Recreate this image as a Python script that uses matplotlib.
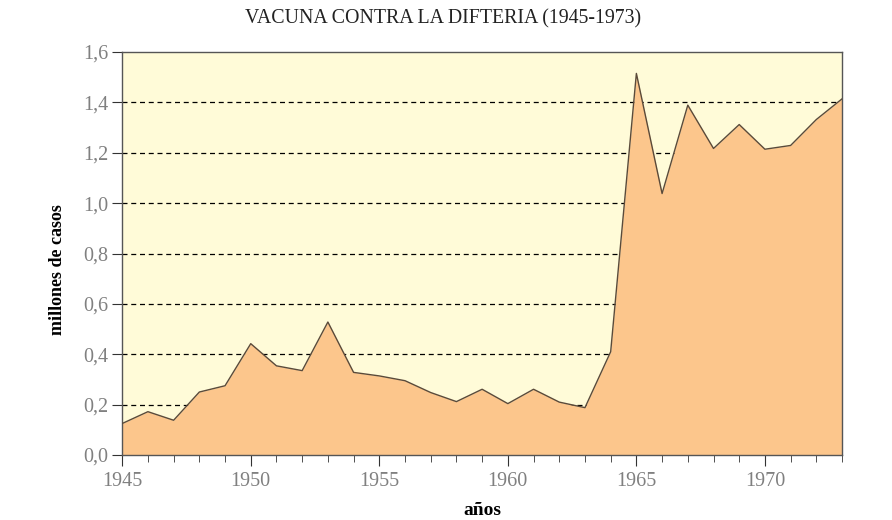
import matplotlib.pyplot as plt
from matplotlib.ticker import FixedLocator, FuncFormatter

# ============================= DATA =============================
years = list(range(1945, 1974))
cases = [0.125, 0.172, 0.138, 0.250, 0.275, 0.442, 0.354, 0.335, 0.528, 0.328,
         0.314, 0.295, 0.248, 0.212, 0.261, 0.204, 0.261, 0.210, 0.188, 0.410,
         1.515, 1.038, 1.389, 1.217, 1.312, 1.214, 1.229, 1.332, 1.414]
y_ticks = [0.0, 0.2, 0.4, 0.6, 0.8, 1.0, 1.2, 1.4, 1.6]
x_ticks = [1945, 1950, 1955, 1960, 1965, 1970]

title = "VACUNA CONTRA LA DIFTERIA (1945-1973)"
xlabel = "años"
ylabel = "millones de casos"

# ============================= PLOT =============================
plt.rcParams["font.family"] = ["Liberation Serif", "DejaVu Serif"]

fig = plt.figure(figsize=(8.92, 5.2), dpi=100)
ax = fig.add_axes([0.137, 0.125, 0.807, 0.775])

ax.set_facecolor("#fffbd8")
ax.fill_between(years, cases, 0, color="#fcc68c", linewidth=0, zorder=2)
ax.plot(years, cases, color="#5a4a3a", linewidth=1.0, zorder=3)

# dashed reference lines
for v in y_ticks[1:-1]:
    ax.axhline(v, color="black", linestyle=(0, (4, 3)), linewidth=0.9, zorder=1)

ax.set_xlim(1945, 1973)
ax.set_ylim(0, 1.6)
ax.xaxis.set_major_locator(FixedLocator(x_ticks))
ax.xaxis.set_minor_locator(FixedLocator(years))
ax.yaxis.set_major_locator(FixedLocator(y_ticks))
ax.yaxis.set_major_formatter(FuncFormatter(lambda v, p: f"{v:.1f}".replace(".", ",")))

for s in ["left", "bottom", "top", "right"]:
    ax.spines[s].set_color("#555555")
    ax.spines[s].set_linewidth(1.0)

ax.tick_params(axis="both", which="both", direction="out", color="#333333",
               labelcolor="#808080", labelsize=14.5)
ax.tick_params(axis="x", which="major", length=8, pad=4)
ax.tick_params(axis="x", which="minor", length=5)
ax.tick_params(axis="y", which="major", length=7, pad=3)

ax.set_xlabel(xlabel, fontsize=14, fontweight="bold", labelpad=8)
ax.set_ylabel(ylabel, fontsize=13, fontweight="bold")
ax.yaxis.set_label_coords(-0.078, 0.46)
fig.suptitle(title, x=0.497, y=0.982, fontsize=14.3, color="#222222")

fig.savefig("out.png", dpi=100)
